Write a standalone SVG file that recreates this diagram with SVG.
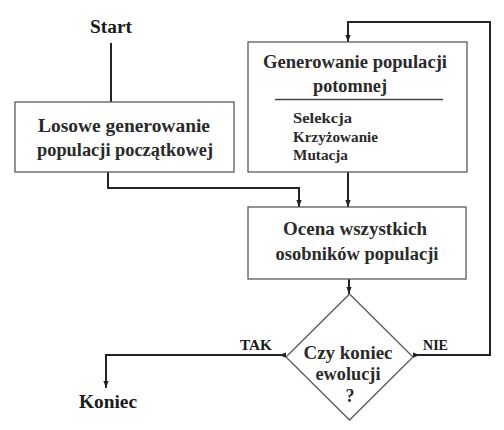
<svg xmlns="http://www.w3.org/2000/svg" width="504" height="430" viewBox="0 0 504 430">
<style>
.bg{fill:#ffffff}
.box{fill:#ffffff;stroke:#5a5a5a;stroke-width:1.3}
.sep{stroke:#444;stroke-width:1.3}
.con{fill:none;stroke:#222;stroke-width:2}
text{font-family:"Liberation Serif","Times New Roman",serif;font-weight:bold;fill:#2a2a2a}
.t{font-size:18px;text-anchor:middle}
.s{font-size:15px}
.big{font-size:18px;text-anchor:middle;fill:#1a1a1a}
.lab{font-size:14px;fill:#1a1a1a}
</style>
<defs>
<marker id="arr" viewBox="0 0 8 6" refX="8" refY="3" markerWidth="7" markerHeight="6" markerUnits="userSpaceOnUse" orient="auto">
<path d="M0,0 L8,3 L0,6 z" fill="#222"/>
</marker>
<marker id="arrS" viewBox="0 0 8 6" refX="0" refY="3" markerWidth="7" markerHeight="6" markerUnits="userSpaceOnUse" orient="auto">
<path d="M0,0 L8,3 L0,6 z" fill="#222"/>
</marker>
</defs>
<rect class="bg" x="0" y="0" width="504" height="430"/>
<g id="connectors">
<path class="con" d="M111,43 V102"/>
<path class="con" d="M108,172 V188 H299 V207" marker-end="url(#arr)"/>
<path class="con" d="M348,172 V207" marker-end="url(#arr)"/>
<path class="con" d="M349,279 V294" marker-end="url(#arr)"/>
<path class="con" d="M286,355 H106 V388" marker-start="url(#arrS)" marker-end="url(#arr)"/>
<path class="con" d="M413,355 H490 V22 H348 V42" marker-start="url(#arrS)" marker-end="url(#arr)"/>
</g>
<g id="start"><text class="big" x="111" y="33" textLength="42" lengthAdjust="spacingAndGlyphs">Start</text></g>
<g id="losowe">
<rect class="box" x="15" y="102" width="219" height="70"/>
<text class="t" x="124" y="132" textLength="172" lengthAdjust="spacingAndGlyphs">Losowe generowanie</text>
<text class="t" x="125" y="156" textLength="176" lengthAdjust="spacingAndGlyphs">populacji początkowej</text>
</g>
<g id="generowanie">
<rect class="box" x="248" y="42" width="219" height="130"/>
<text class="t" x="355" y="68" textLength="184" lengthAdjust="spacingAndGlyphs">Generowanie populacji</text>
<text class="t" x="350" y="92" textLength="74" lengthAdjust="spacingAndGlyphs">potomnej</text>
<line class="sep" x1="275" y1="99.5" x2="443" y2="99.5"/>
<text class="s" x="293" y="123" textLength="59" lengthAdjust="spacingAndGlyphs">Selekcja</text>
<text class="s" x="293" y="142" textLength="85" lengthAdjust="spacingAndGlyphs">Krzyżowanie</text>
<text class="s" x="293" y="160" textLength="55" lengthAdjust="spacingAndGlyphs">Mutacja</text>
</g>
<g id="ocena">
<rect class="box" x="248" y="207" width="218" height="72"/>
<text class="t" x="355" y="235" textLength="144" lengthAdjust="spacingAndGlyphs">Ocena wszystkich</text>
<text class="t" x="357" y="260" textLength="163" lengthAdjust="spacingAndGlyphs">osobników populacji</text>
</g>
<g id="decyzja">
<polygon class="box" points="349.5,294 413,357 349.5,420 286,357"/>
<text class="t" x="348" y="359" textLength="89" lengthAdjust="spacingAndGlyphs">Czy koniec</text>
<text class="t" x="348" y="380" textLength="65" lengthAdjust="spacingAndGlyphs">ewolucji</text>
<text class="t" x="350" y="402">?</text>
</g>
<g id="labels">
<text class="lab" x="240" y="350" textLength="32" lengthAdjust="spacingAndGlyphs">TAK</text>
<text class="lab" x="423" y="350" textLength="25" lengthAdjust="spacingAndGlyphs">NIE</text>
</g>
<g id="koniec"><text class="big" x="108" y="408" textLength="58" lengthAdjust="spacingAndGlyphs">Koniec</text></g>
</svg>
